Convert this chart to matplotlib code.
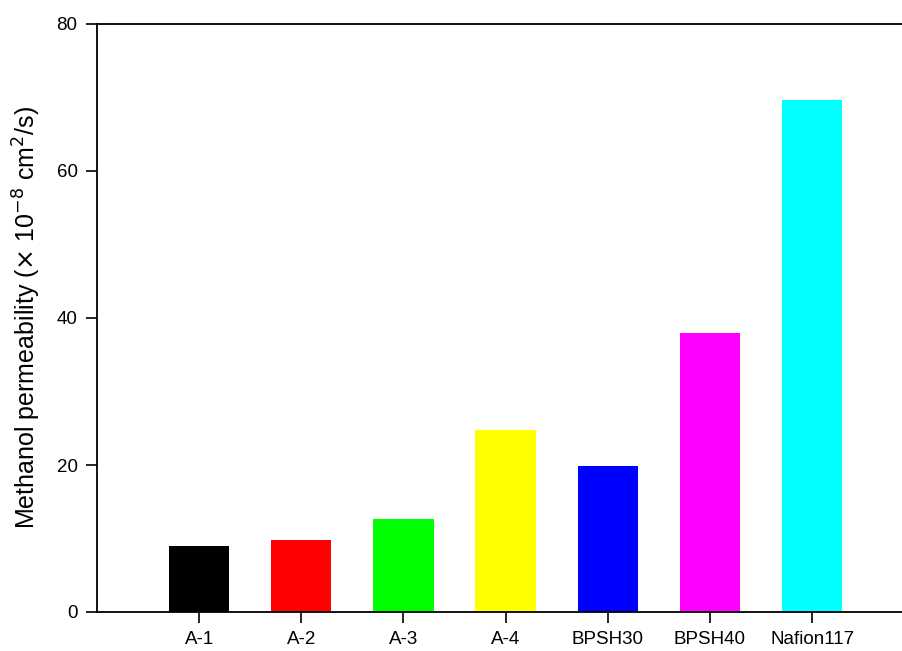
import matplotlib
matplotlib.use('Agg')
import matplotlib.pyplot as plt

plt.rcParams['font.family'] = ['Liberation Sans', 'DejaVu Sans']

samples = ['A-1', 'A-2', 'A-3', 'A-4', 'BPSH30', 'BPSH40', 'Nafion117']
permeability = [9.0, 9.8, 12.6, 24.8, 19.9, 38.0, 69.6]
colors = ['#000000', '#ff0000', '#00ff00', '#ffff00', '#0000ff', '#ff00ff', '#00ffff']

fig = plt.figure(figsize=(9.03, 6.51), dpi=100)
ax = fig.add_axes([97 / 903, 39 / 651, 1 - 97 / 903, 588 / 651])

x = range(len(samples))
ax.bar(x, permeability, width=0.59, color=colors, edgecolor='none')

ax.set_xlim(-1.0, 6.89)
ax.set_ylim(0, 80)
ax.set_yticks([0, 20, 40, 60, 80])
ax.set_xticks(list(x))
ax.set_xticklabels(samples)
ax.spines['right'].set_visible(False)
for s in ['left', 'bottom', 'top']:
    ax.spines[s].set_linewidth(1.3)
ax.tick_params(direction='out', length=8, width=1.2, labelsize=13.5, pad=6)
ax.set_ylabel(r'Methanol permeability ($\times$ 10$^{-8}$ cm$^{2}$/s)',
              fontsize=18, labelpad=10)

fig.savefig('out.png', dpi=100)
